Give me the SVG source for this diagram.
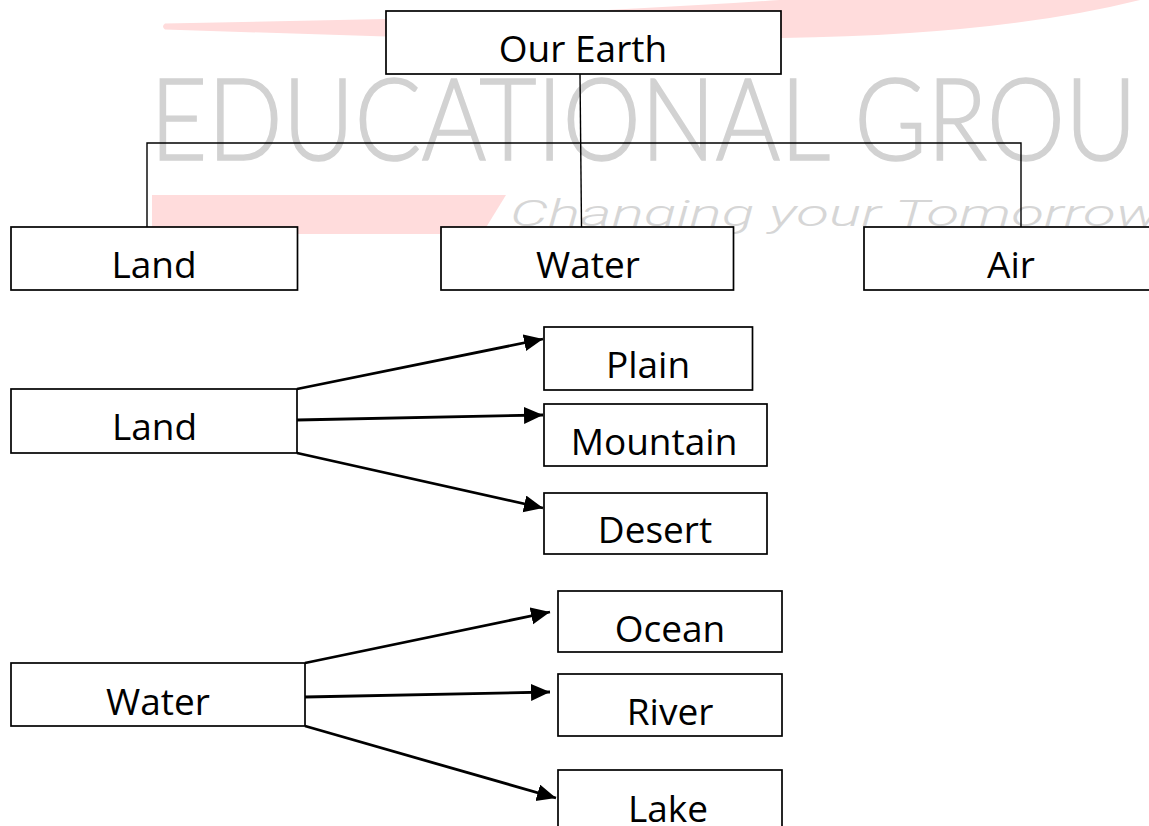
<svg xmlns="http://www.w3.org/2000/svg" width="1149" height="826" viewBox="0 0 1149 826">
<style>
.box{fill:#fff;stroke:#000;stroke-width:1.7}
.lbl{font-family:"Open Sans","Liberation Sans",sans-serif;font-size:37px;fill:#000;text-anchor:middle}
.tree{fill:none;stroke:#000;stroke-width:1.4}
.arr{fill:none;stroke:#000;stroke-width:2.8}
</style>
<defs>
<marker id="ah" markerUnits="userSpaceOnUse" markerWidth="22" markerHeight="19" refX="19" refY="8.5" orient="auto">
<path d="M0,0 L19,8.5 L0,17 Z" fill="#000"/>
</marker>
</defs>
<rect width="1149" height="826" fill="#fff"/>
<g id="watermark">
<path d="M165,23.5 L386,19 Q600,12 780,0 L1140,0 Q1000,35 782,38 L386,36.5 L165,29.5 Q161,26.5 165,23.5 Z" fill="#ffdcdc"/>
<polygon points="152,195 506,195 482,234 152,234" fill="#ffdcdc"/>
<text x="150" y="160" font-family="Lato,'Open Sans',sans-serif" font-size="114" font-weight="300" fill="#d2d2d2" stroke="#d2d2d2" stroke-width="1.6" textLength="987" lengthAdjust="spacingAndGlyphs">EDUCATIONAL GROU</text>
<text x="510" y="226" font-family="Roboto,'Open Sans',sans-serif" font-size="36" font-weight="300" font-style="italic" fill="#d6d6d6" textLength="650" lengthAdjust="spacingAndGlyphs">Changing your Tomorrow</text>
</g>
<g id="connectors">
<line class="tree" x1="580" y1="74" x2="581.5" y2="227"/>
<polyline class="tree" points="147,227 147,143 1021,143 1021,227"/>
<line class="arr" x1="297" y1="389" x2="543" y2="339" marker-end="url(#ah)"/>
<line class="arr" x1="297" y1="420" x2="543" y2="415" marker-end="url(#ah)"/>
<line class="arr" x1="297" y1="453" x2="543" y2="508" marker-end="url(#ah)"/>
<line class="arr" x1="305" y1="663" x2="550" y2="612" marker-end="url(#ah)"/>
<line class="arr" x1="305" y1="697" x2="550" y2="692" marker-end="url(#ah)"/>
<line class="arr" x1="305" y1="726" x2="556" y2="798" marker-end="url(#ah)"/>
</g>
<g id="our-earth"><rect class="box" x="386" y="11" width="395" height="63"/><text class="lbl" x="583" y="62" font-size="38">Our Earth</text></g>
<g id="land-top"><rect class="box" x="11" y="227" width="286.5" height="63"/><text class="lbl" x="154" y="278">Land</text></g>
<g id="water-top"><rect class="box" x="441" y="227" width="292.5" height="63"/><text class="lbl" x="588" y="278">Water</text></g>
<g id="air-top"><rect class="box" x="864" y="227" width="290" height="63"/><text class="lbl" x="1011" y="278">Air</text></g>
<g id="land"><rect class="box" x="11" y="389" width="286" height="64"/><text class="lbl" x="154.5" y="440">Land</text></g>
<g id="plain"><rect class="box" x="544" y="327" width="208.5" height="63"/><text class="lbl" x="648" y="378">Plain</text></g>
<g id="mountain"><rect class="box" x="544" y="404" width="223" height="62"/><text class="lbl" x="654" y="455">Mountain</text></g>
<g id="desert"><rect class="box" x="544" y="493" width="223" height="61"/><text class="lbl" x="655" y="543">Desert</text></g>
<g id="water"><rect class="box" x="11" y="663" width="294" height="63"/><text class="lbl" x="158" y="715">Water</text></g>
<g id="ocean"><rect class="box" x="558" y="591" width="224" height="61"/><text class="lbl" x="670" y="642">Ocean</text></g>
<g id="river"><rect class="box" x="558" y="674" width="224" height="62"/><text class="lbl" x="670" y="725">River</text></g>
<g id="lake"><rect class="box" x="558" y="770" width="224" height="60"/><text class="lbl" x="668" y="822">Lake</text></g>
</svg>
